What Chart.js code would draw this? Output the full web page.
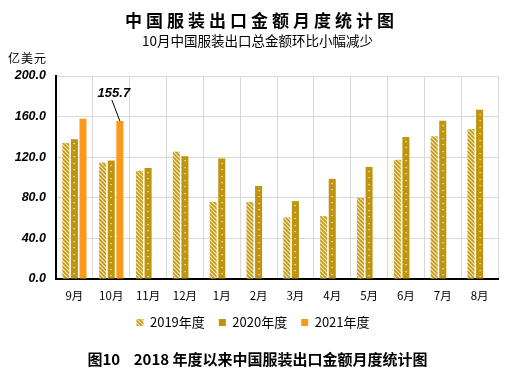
<!DOCTYPE html>
<html><head><meta charset="utf-8">
<script src="https://cdn.jsdelivr.net/npm/chart.js@4.4.0/dist/chart.umd.min.js"></script>
<style>
html,body{margin:0;padding:0;background:#fff;}
#wrap{position:relative;width:515px;height:375px;overflow:hidden;}
canvas{position:absolute;left:0;top:0;}
.t{position:absolute;white-space:nowrap;color:#000;}
#title{left:4px;width:515px;text-align:center;top:9px;font:bold 17px "Noto Sans CJK SC";letter-spacing:4px;line-height:22px;}
#sub{left:0;width:515px;text-align:center;top:31px;font:13.5px "Noto Sans CJK SC";line-height:18px;}
#unit{left:8px;top:50px;font:12px "Noto Sans CJK SC";line-height:16px;letter-spacing:1px;}
#cap{left:0;width:515px;text-align:center;top:349px;font:bold 15px "Noto Sans CJK SC";line-height:20px;}
</style></head>
<body><div id="wrap">
<canvas id="c" width="515" height="375"></canvas>
<div class="t" id="title">中国服装出口金额月度统计图</div>
<div class="t" id="sub">10月中国服装出口总金额环比小幅减少</div>
<div class="t" id="unit">亿美元</div>
<div class="t" id="cap">图10&nbsp;&nbsp;&nbsp;&nbsp;2018 年度以来中国服装出口金额月度统计图</div>
</div>
<script>
const categories = ['9月','10月','11月','12月','1月','2月','3月','4月','5月','6月','7月','8月'];
const seriesNames = ['2019年度','2020年度','2021年度'];
const values2019 = [134.0,114.7,106.7,125.5,76.0,76.0,60.7,62.0,80.0,117.4,140.7,147.7];
const values2020 = [137.7,116.7,109.4,121.0,118.7,91.7,76.7,98.7,110.4,140.0,156.0,166.7];
const values2021 = [158.0,155.7,null,null,null,null,null,null,null,null,null,null];
const yTicks = [0,40,80,120,160,200];
const annotateIndex = 1;

function stripePattern(){
  const s=4, c=document.createElement('canvas'); c.width=s; c.height=s;
  const g=c.getContext('2d');
  g.fillStyle='#F6E8B0'; g.fillRect(0,0,s,s);
  g.strokeStyle='#C49A1C'; g.lineWidth=1.6;
  g.beginPath();
  g.moveTo(-1,-1); g.lineTo(s+1,s+1);
  g.moveTo(-1,s-1); g.lineTo(1,s+1);
  g.moveTo(s-1,-1); g.lineTo(s+1,1);
  g.stroke();
  return document.getElementById('c').getContext('2d').createPattern(c,'repeat');
}
const stripes = stripePattern();

const extras = {
  id:'extras',
  afterDatasetsDraw(chart){
    const ctx=chart.ctx;
    const m1=chart.getDatasetMeta(1);
    ctx.save(); ctx.fillStyle='#FFF6D0';
    m1.data.forEach(el=>{
      if(el.skip) return;
      for(let y=el.y+4; y<el.base-2; y+=6.5){ ctx.fillRect(Math.round(el.x)-0.5,Math.round(y),1.2,1.2); }
    });
    ctx.restore();
    const m2=chart.getDatasetMeta(2);
    const el=m2.data[annotateIndex];
    ctx.save();
    ctx.strokeStyle='#000'; ctx.lineWidth=1;
    ctx.beginPath(); ctx.moveTo(el.x-8,el.y-21); ctx.lineTo(el.x,el.y); ctx.stroke();
    ctx.fillStyle='#000'; ctx.font='italic bold 13px "Liberation Sans"';
    ctx.textAlign='center'; ctx.textBaseline='middle';
    ctx.fillText(values2021[annotateIndex].toFixed(1), el.x-6, el.y-28);
    ctx.restore();
  }
};

new Chart(document.getElementById('c'),{
  type:'bar',
  data:{labels:categories,datasets:[
    {label:seriesNames[0],data:values2019,backgroundColor:stripes,borderWidth:0},
    {label:seriesNames[1],data:values2020,backgroundColor:'#BF940F',borderWidth:0},
    {label:seriesNames[2],data:values2021,backgroundColor:'#FA9A1A',borderWidth:0}
  ]},
  options:{
    responsive:false,animation:false,
    datasets:{bar:{categoryPercentage:0.7,barPercentage:0.82}},
    layout:{padding:{top:76,left:8,right:17,bottom:36}},
    plugins:{
      legend:{position:'bottom',labels:{boxWidth:7,boxHeight:7,padding:14,color:'#000',font:{family:'"Noto Sans CJK SC"',size:13}}},
      tooltip:{enabled:false},title:{display:false}
    },
    scales:{
      x:{grid:{color:'#d9d9d9',drawTicks:false},border:{color:'#000',width:2},
         ticks:{padding:10,color:'#000',font:{family:'"Noto Sans CJK SC"',size:11.5}},
         afterFit(s){s.height=23;}},
      y:{min:0,max:200,
         afterBuildTicks(s){s.ticks=yTicks.map(v=>({value:v}));},
         grid:{color:'#d9d9d9',drawTicks:false},border:{color:'#000',width:2},
         ticks:{padding:10,color:'#000',font:{family:'"Liberation Sans"',size:12.5,style:'italic',weight:'bold'},callback:v=>v.toFixed(1)},
         afterFit(s){s.width=48;}}
    }
  },
  plugins:[extras]
});
</script>
</body></html>
